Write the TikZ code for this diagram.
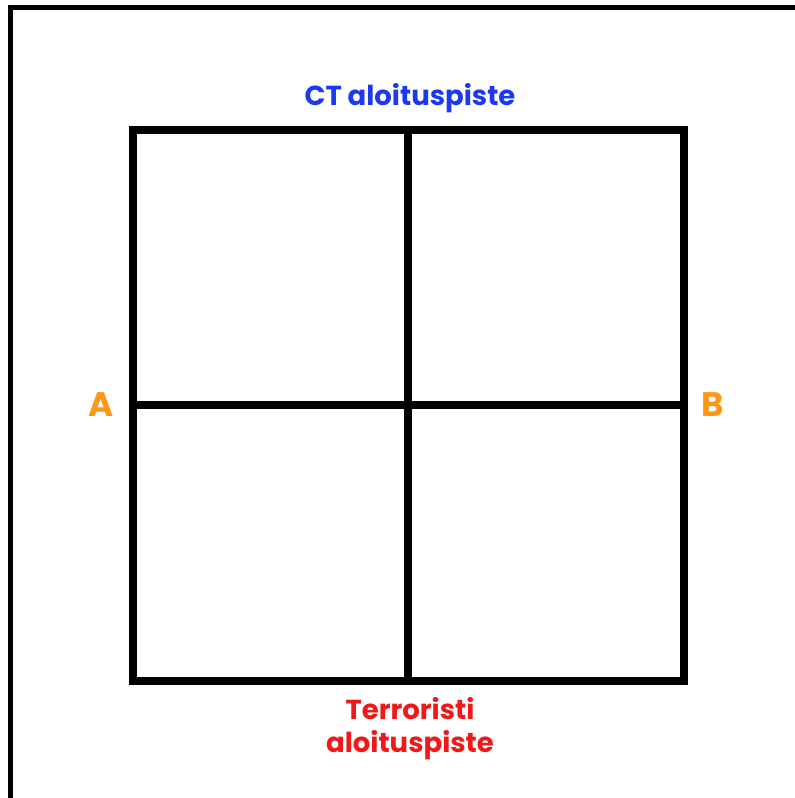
\documentclass[tikz,border=0pt]{standalone}
\usepackage{fontspec}
\setmainfont{Poppins}[BoldFont={* Bold}]
\definecolor{ctblue}{RGB}{28,56,240}
\definecolor{tred}{RGB}{240,24,24}
\definecolor{sideor}{RGB}{255,150,24}
\tikzset{
  gridline/.style={line width=8pt, line cap=rect},
  framel/.style={line width=5pt},
  lbl/.style={font=\bfseries\fontsize{27.5}{33}\selectfont, inner sep=0pt, align=center},
  sidelbl/.style={font=\bfseries\fontsize{34}{40}\selectfont, inner sep=0pt, text=sideor},
}
\begin{document}
\begin{tikzpicture}[x=1pt,y=-1pt]
\useasboundingbox (0,0) rectangle (795,798);
\fill[white] (0,0) rectangle (795,798);
% partial outer frame (top and left only)
\draw[framel] (10.5,798) -- (10.5,7.5) -- (795,7.5);
% grid
\coordinate (tl) at (133,130);
\coordinate (br) at (684,681);
\draw[gridline] (tl) rectangle (br);
\draw[gridline] (408,130) -- (408,681);
\draw[gridline] (133,405) -- (684,405);
% labels
\node[lbl, text=ctblue] (ct) at (410,98) {CT aloituspiste};
\node[lbl, text=tred] (tr) at (410,729) {Terroristi\\aloituspiste};
\node[sidelbl] (a) at (101,405) {A};
\node[sidelbl] (b) at (713,405) {B};
\end{tikzpicture}
\end{document}
